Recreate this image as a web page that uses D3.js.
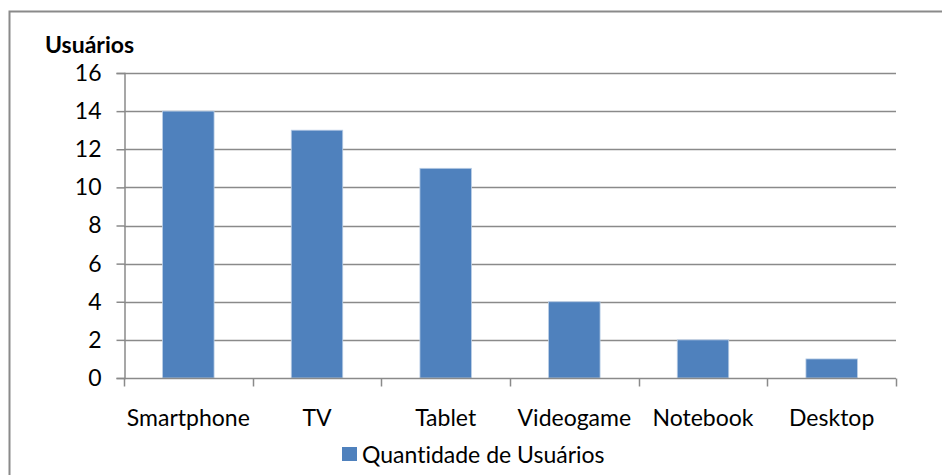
<!DOCTYPE html>
<html>
<head>
    <meta charset="utf-8">
    <title>Usuários por dispositivo</title>
    <style>
    body { margin: 0; background: #fff }
    text { font-family: Lato, "Open Sans", sans-serif; fill: #000; font-variant-ligatures: none }
    </style>
</head>
<body>
    <script src="https://cdn.jsdelivr.net/npm/d3@7"></script>
    <script>

    var categories = ['Smartphone', 'TV', 'Tablet', 'Videogame', 'Notebook', 'Desktop'],
        usuarios = [14, 13, 11, 4, 2, 1],
        yTicks = [0, 2, 4, 6, 8, 10, 12, 14, 16],
        seriesName = 'Quantidade de Usuários'

    var width = 942,
        height = 475,
        plot = {left: 124, right: 896, top: 73, bottom: 378},
        gray = '#8a8a8a',
        fontSize = '23px'

    var svg = d3.select('body').append('svg')
        .attr('width', width)
        .attr('height', height)

    // outer chart frame (only top and left visible)
    svg.append('rect')
        .attr('x', 9.5).attr('y', 11.5)
        .attr('width', 960).attr('height', 500)
        .attr('fill', 'none')
        .attr('stroke', gray)
        .attr('stroke-width', 2)

    var x = d3.scaleBand()
        .domain(categories)
        .range([plot.left, plot.right])
        .paddingInner(0.6)
        .paddingOuter(0.3)

    var xTicks = d3.scaleBand()
        .domain(categories)
        .range([plot.left, plot.right])

    var y = d3.scaleLinear()
        .domain([0, 16])
        .range([plot.bottom, plot.top])

    // gridlines
    svg.append('g')
        .selectAll('line')
        .data(yTicks.slice(1))
        .enter().append('line')
        .attr('x1', plot.left).attr('x2', plot.right)
        .attr('y1', function(d){ return Math.round(y(d)) + 0.5 })
        .attr('y2', function(d){ return Math.round(y(d)) + 0.5 })
        .attr('stroke', gray)
        .attr('stroke-width', 1.5)

    // bars
    svg.append('g')
        .selectAll('rect')
        .data(usuarios)
        .enter().append('rect')
        .attr('x', function(d, i){ return x(categories[i]) })
        .attr('y', function(d){ return y(d) })
        .attr('width', x.bandwidth())
        .attr('height', function(d){ return y(0) - y(d) })
        .attr('fill', '#4f81bd')
        .attr('stroke', '#b9cde5')
        .attr('stroke-width', 0.8)

    // y axis
    var yAxis = svg.append('g')
        .attr('transform', 'translate(' + (plot.left + 0.5) + ',0)')
        .call(d3.axisLeft(y).tickValues(yTicks).tickSize(8).tickPadding(15))
    yAxis.select('.domain').attr('stroke', gray).attr('stroke-width', 1.5)
    yAxis.selectAll('.tick line').attr('stroke', gray).attr('stroke-width', 1.5)
    yAxis.selectAll('.tick text')
        .style('font-size', fontSize)
        .attr('fill', '#000')

    // x axis with ticks between categories
    var xg = svg.append('g')
        .attr('transform', 'translate(0,' + (plot.bottom + 0.5) + ')')
    xg.append('line')
        .attr('x1', plot.left).attr('x2', plot.right)
        .attr('stroke', gray).attr('stroke-width', 1.5)
    var bounds = categories.map(function(c){ return xTicks(c) }).concat([plot.right])
    xg.selectAll('.xt')
        .data(bounds)
        .enter().append('line')
        .attr('class', 'xt')
        .attr('x1', function(d){ return Math.round(d) + 0.5 })
        .attr('x2', function(d){ return Math.round(d) + 0.5 })
        .attr('y1', 0).attr('y2', 8)
        .attr('stroke', gray).attr('stroke-width', 1.5)
    xg.selectAll('.xl')
        .data(categories)
        .enter().append('text')
        .attr('class', 'xl')
        .attr('x', function(d){ return xTicks(d) + xTicks.bandwidth() / 2 })
        .attr('y', 39)
        .attr('dy', '0.35em')
        .attr('text-anchor', 'middle')
        .style('font-size', fontSize)
        .text(function(d){ return d })

    // axis title
    svg.append('text')
        .attr('x', 45).attr('y', 45)
        .attr('dy', '0.35em')
        .style('font-size', fontSize)
        .style('font-weight', 'bold')
        .text('Usuários')

    // legend
    var legend = svg.append('g')
    legend.append('rect')
        .attr('x', 342).attr('y', 447)
        .attr('width', 15).attr('height', 14)
        .attr('fill', '#4f81bd')
    legend.append('text')
        .attr('x', 362).attr('y', 455)
        .attr('dy', '0.35em')
        .style('font-size', fontSize)
        .text(seriesName)

    </script>
</body>
</html>
